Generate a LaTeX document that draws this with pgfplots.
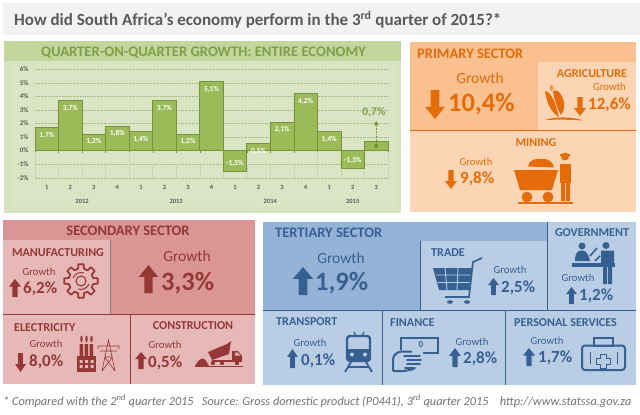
\documentclass[border=0pt]{standalone}
\usepackage{pgfplots}
\pgfplotsset{compat=1.18}
\usepackage{fontspec}
\setmainfont{Carlito}
\usetikzlibrary{arrows.meta}
\definecolor{titlec}{HTML}{595959}
\definecolor{gbg}{HTML}{D6E3BC}
\definecolor{ghead}{HTML}{C3D69B}
\definecolor{gplot}{HTML}{DAE5C5}
\definecolor{gbar}{HTML}{9BBB59}
\definecolor{gedge}{HTML}{76923C}
\definecolor{gdark}{HTML}{7F9F45}
\definecolor{odark}{HTML}{FAC090}
\definecolor{olight}{HTML}{FCD5B5}
\definecolor{otx}{HTML}{E46C0A}
\definecolor{rdark}{HTML}{D99694}
\definecolor{rlight}{HTML}{E6B9B8}
\definecolor{rtx}{HTML}{953735}
\definecolor{bdark}{HTML}{95B3D7}
\definecolor{blight}{HTML}{B9CDE5}
\definecolor{btx}{HTML}{376092}
\newcommand{\upa}[5]{\fill[#5] ({(#1+#3)/2},#2) -- (#3,{#2+(#4-#2)*0.42}) -- ({#1+(#3-#1)*0.72},{#2+(#4-#2)*0.42}) -- ({#1+(#3-#1)*0.72},#4) -- ({#1+(#3-#1)*0.28},#4) -- ({#1+(#3-#1)*0.28},{#2+(#4-#2)*0.42}) -- (#1,{#2+(#4-#2)*0.42}) -- cycle;}
\newcommand{\dna}[5]{\fill[#5] ({(#1+#3)/2},#4) -- (#3,{#4-(#4-#2)*0.42}) -- ({#1+(#3-#1)*0.72},{#4-(#4-#2)*0.42}) -- ({#1+(#3-#1)*0.72},#2) -- ({#1+(#3-#1)*0.28},#2) -- ({#1+(#3-#1)*0.28},{#4-(#4-#2)*0.42}) -- (#1,{#4-(#4-#2)*0.42}) -- cycle;}
\newcommand{\tx}[5][center]{\node[anchor=#1,inner sep=0pt,text=#5,font=#4] at (#2) {#3};}
\newcommand{\fsec}{\fontsize{14.5}{16}\selectfont\bfseries}
\newcommand{\fsub}{\fontsize{12.1}{14}\selectfont\bfseries}
\newcommand{\fgb}{\fontsize{15.5}{17}\selectfont}
\newcommand{\fgs}{\fontsize{10.7}{12}\selectfont}
\newcommand{\fnb}{\fontsize{26.5}{28}\selectfont\bfseries}
\newcommand{\fns}{\fontsize{17}{19}\selectfont\bfseries}
\pgfplotstableread{
x y
0.5 1.7
1.5 3.7
2.5 1.2
3.5 1.8
4.5 1.4
5.5 3.7
6.5 1.2
7.5 5.1
9.5 0.5
10.5 2.1
11.5 4.2
12.5 1.4
}\tblpos
\pgfplotstableread{
x y
8.5 -1.5
13.5 -1.3
}\tblneg
\pgfplotstableread{
x y
14.5 0.7
}\tbllast
\begin{document}
\begin{tikzpicture}
\begin{scope}[x=1pt,y=-1pt]
\useasboundingbox (0,0) rectangle (640,415);
\fill[white] (0,0) rectangle (640,415);
% title
\fill[black!5] (3,3) rectangle (640,35);
\node[anchor=west,inner sep=0pt,text=titlec,font=\fontsize{17}{19}\selectfont\bfseries] at (14,19.5) {How did South Africa’s economy perform in the 3\textsuperscript{rd} quarter of 2015?*};
% green panel
\fill[gbg] (4,41) rectangle (401,212.5);
\fill[ghead] (4,41) rectangle (401,61);
\fill[gplot] (12,61) rectangle (396,207);
\tx{203.5,52.5}{QUARTER-ON-QUARTER GROWTH: ENTIRE ECONOMY}{\fontsize{14.65}{16}\selectfont\bfseries}{gdark}
% primary
\fill[olight] (409.5,42) rectangle (636,212);
\fill[odark] (409.5,42) rectangle (636,62);
\fill[odark] (409.5,62) rectangle (538,130);
\draw[otx,line width=0.7] (409.5,130) -- (636,130);
\tx[west]{417,54}{PRIMARY SECTOR}{\fsec}{otx}
\tx{480,78}{Growth}{\fgb}{otx}
\dna{425}{90}{445}{119}{otx}
\tx[west]{448,104}{10,4\%}{\fnb}{otx}
\tx{592,74}{AGRICULTURE}{\fsub}{otx}
\tx[east]{626,87}{Growth}{\fgs}{otx}
\dna{574}{97}{586}{116}{otx}
\tx[west]{588,105}{12,6\%}{\fns}{otx}
\tx{536,143}{MINING}{\fsub}{otx}
\tx{476,162}{Growth}{\fgs}{otx}
\dna{445}{170}{457}{189}{otx}
\tx[west]{460,179}{9,8\%}{\fns}{otx}
% corn
\fill[otx] (545,91) .. controls (551,92) and (555,101) .. (559,117) .. controls (552,113) and (547,105) .. (545,91) -- cycle;
\fill[otx] (553,91) .. controls (558,88) and (562,95) .. (564,102) .. controls (565,108) and (563,112) .. (561,115) .. controls (557,108) and (554,99) .. (553,91) -- cycle;
\fill[otx!70] (551.5,88) ellipse (2 and 2.8);
\fill[otx] (545,120) .. controls (555,116.5) and (572,116.5) .. (583,120.5) .. controls (570,119.5) and (555,119.5) .. (545,120) -- cycle;
% cart
\fill[otx] (514,170) -- (558,170) -- (552,190) -- (520,190) -- cycle;
\fill[otx] (528,166.5) .. controls (528,160) and (537,158) .. (541,159) .. controls (548,158) and (553,162) .. (554,167.5) -- cycle;
\fill[otx] (527,197) circle (5.4) (548,197) circle (5.4);
\fill[otx] (518,202) rectangle (573,203.5);
\fill[otx] (565,156.5) circle (4);
\fill[otx] (560,153.5) rectangle (570,156);
\fill[otx] (560,164) rectangle (571,183);
\fill[otx] (561,183) rectangle (565,201) (566,183) rectangle (570,201);
% secondary
\fill[rdark] (3,220) rectangle (255,384);
\fill[rlight] (3,240) rectangle (110,314);
\fill[rlight] (3,314) rectangle (255,384);
\draw[rtx,line width=0.7] (3,314) -- (255,314) (130,314) -- (130,384);
\draw[black!50,line width=0.5] (110,240) -- (110,314);
\tx{128,231}{SECONDARY SECTOR}{\fsec}{rtx}
\tx{58,253}{MANUFACTURING}{\fsub}{rtx}
\tx{39,272}{Growth}{\fgs}{rtx}
\upa{9}{279}{21}{297}{rtx}
\tx[west]{23,289}{6,2\%}{\fns}{rtx}
\tx{187,256}{Growth}{\fgb}{rtx}
\upa{139}{265}{158}{293}{rtx}
\tx[west]{161,283}{3,3\%}{\fnb}{rtx}
\tx[west]{14,328}{ELECTRICITY}{\fsub}{rtx}
\tx{46,344}{Growth}{\fgs}{rtx}
\dna{15}{353}{26}{372}{rtx}
\tx[west]{29,362}{8,0\%}{\fns}{rtx}
\tx{193,326}{CONSTRUCTION}{\fsub}{rtx}
\tx{165,345}{Growth}{\fgs}{rtx}
\upa{135}{352}{147}{369}{rtx}
\tx[west]{148,363}{0,5\%}{\fns}{rtx}
% gear
\begin{scope}[shift={(81,281)}]
\draw[rtx,line width=1.7,line join=round] (-14:12.5) -- (-9:17) -- (9:17) -- (14:12.5) \foreach \a in {45,90,...,315}{ -- (\a-14:12.5) -- (\a-9:17) -- (\a+9:17) -- (\a+14:12.5)} -- cycle;
\draw[rtx,line width=1.1] (0,0) circle (5);
\draw[rtx,line width=1] (20:8.5) arc (20:110:8.5) (200:8.5) arc (200:290:8.5);
\end{scope}
% factory
\fill[rtx] (77,356) rectangle (96,372);
\fill[rtx] (79.5,344) rectangle (83,356) (84.5,344) rectangle (88,356) (89.5,344) rectangle (93,356);
\fill[rtx] (81.5,339) ellipse (1.2 and 3.5) (86.5,339) ellipse (1.2 and 3.5) (91.5,339) ellipse (1.2 and 3.5);
\fill[rlight] (79.5,360) rectangle (82.5,363) (85,360) rectangle (88,363) (90.5,360) rectangle (93.5,363) (79.5,365) rectangle (82.5,368) (85,365) rectangle (88,368) (90.5,365) rectangle (93.5,368);
\draw[rtx,line width=0.6] (102,371) -- (108.5,340) -- (115,371) (102,371) -- (112.5,357) (115,371) -- (104.5,357) (98,346) -- (119,346) (100,351) -- (117,351) (104.5,357) -- (112.5,357) (98,346) -- (98,349) (119,346) -- (119,349);
% truck
\fill[rtx] (195,366) .. controls (198,360) and (201,358.5) .. (203,358.5) .. controls (205,359) and (207,362) .. (209,366) -- cycle;
\fill[rtx] (208,352) -- (227,344) -- (231,341) -- (229,354) -- (212,360) -- cycle;
\fill[rtx] (212,359.5) rectangle (242,362);
\fill[rtx] (232,351) -- (238,351) -- (242,356) -- (242,360) -- (232,360) -- cycle;
\fill[rlight] (235,352.5) -- (238,352.5) -- (240,355.5) -- (235,355.5) -- cycle;
\fill[rtx] (213,363) circle (2.2) (222,363) circle (2.2) (237,363) circle (2.2);
\draw[rtx,line width=0.6] (195,366.5) -- (243,366.5);
% tertiary
\fill[blight] (263,222) rectangle (636,385);
\fill[bdark] (263,222) rectangle (547,241);
\fill[bdark] (263,241) rectangle (420,310);
\draw[btx,line width=0.6] (263,310) -- (636,310) (547,222) -- (547,310) (420,241) -- (420,310) (382,310) -- (382,385) (505,310) -- (505,385);
\tx[west]{275,233}{TERTIARY SECTOR}{\fsec}{btx}
\tx{341,258}{Growth}{\fgb}{btx}
\upa{293}{267}{313}{295}{btx}
\tx[west]{315,283}{1,9\%}{\fnb}{btx}
\tx[west]{431,253}{TRADE}{\fsub}{btx}
\tx{510,270}{Growth}{\fgs}{btx}
\upa{488}{278}{499}{295}{btx}
\tx[west]{501,288}{2,5\%}{\fns}{btx}
\tx{592,233}{GOVERNMENT}{\fsub}{btx}
\tx{578,278}{Growth}{\fgs}{btx}
\upa{566}{287}{577}{304}{btx}
\tx[west]{579,296}{1,2\%}{\fns}{btx}
\tx[west]{276,322}{TRANSPORT}{\fsub}{btx}
\tx{310,343}{Growth}{\fgs}{btx}
\upa{287}{349}{298}{368}{btx}
\tx[west]{301,361}{0,1\%}{\fns}{btx}
\tx[west]{390,323}{FINANCE}{\fsub}{btx}
\tx{472,342}{Growth}{\fgs}{btx}
\upa{449}{348}{461}{367}{btx}
\tx[west]{463,359}{2,8\%}{\fns}{btx}
\tx[west]{514,323}{PERSONAL SERVICES}{\fsub}{btx}
\tx{547,341}{Growth}{\fgs}{btx}
\upa{523}{348}{535}{366}{btx}
\tx[west]{538,358}{1,7\%}{\fns}{btx}
% cart icon
\fill[btx] (433,268) -- (472,268) -- (469,290) -- (439,290) -- cycle;
\draw[blight,line width=0.9] (445,268) -- (447,290) (458,268) -- (457,290) (436,275) -- (470.5,275) (437.5,282.5) -- (469.5,282.5);
\draw[btx,line width=1.7] (482,258) -- (473,262) -- (469,297) -- (445,297);
\fill[btx] (450,302) ellipse (3 and 1.8) (467,302) ellipse (3 and 1.8);
% government icon
\fill[btx] (582,246) circle (3.5) (606,245.5) circle (3.5);
\fill[btx] (575,261) .. controls (575,252) and (578,250.5) .. (582,250.5) .. controls (586,250.5) and (588,253) .. (590,261) -- cycle;
\fill[btx] (572,263) rectangle (615,266.5);
\draw[btx,line width=1.6] (590,256) -- (597,248) (600,256) -- (595,261);
\fill[btx] (601,250.5) rectangle (614,263) (603,266) rectangle (607,284) (608,266) rectangle (612,284);
% train
\draw[btx,line width=2.4,rounded corners=3] (347,336) rectangle (370,361);
\fill[btx] (347,349) rectangle (370,361);
\fill[blight] (352,354.5) circle (2) (365,354.5) circle (2);
\draw[btx,line width=1.2] (356,336) -- (354,332) (362,336) -- (364,332);
\draw[btx,line width=1.8] (351,362) -- (345,372) (366,362) -- (372,372) (348,367) -- (369,367);
% finance
\draw[btx,line width=2] (400.5,338) rectangle (438,353);
\node[text=btx,font=\fontsize{9}{10}\selectfont\bfseries,inner sep=0pt] at (421,345) {0};
\fill[blight] (391,350) -- (412,350) -- (423,351) -- (423,372) -- (391,372) -- cycle;
\draw[btx,line width=2,line join=round] (393,371) -- (393,360) .. controls (393,355) and (397,352) .. (401,351.5) -- (412,351.5) (393,371) -- (404,371) -- (414,369);
\draw[btx,line width=1.8,line cap=round] (404,356) -- (420,356) (407,360) -- (421,360) (407,364) -- (420,364) (405,368) -- (415,368);
% kit
\draw[btx,line width=2,rounded corners=3] (582,345.5) rectangle (625,370);
\draw[btx,line width=2] (594,338) rectangle (613,345.5);
\draw[btx,line width=1] (590,352) -- (590,364) (617,352) -- (617,364);
\draw[btx,line width=1] (600,354) -- (606,354) -- (606,358) -- (610,358) -- (610,364) -- (606,364) -- (606,368) -- (600,368) -- (600,364) -- (596,364) -- (596,358) -- (600,358) -- cycle;
% footnote
\node[anchor=west,inner sep=0pt,text=black!55,font=\fontsize{12.3}{14}\selectfont\itshape] at (3,401) {* Compared with the 2\textsuperscript{nd} quarter 2015 \ \ Source: Gross domestic product (P0441), 3\textsuperscript{rd} quarter 2015 \ \ \ http://www.statssa.gov.za};
\end{scope}
\begin{axis}[
  at={(35pt,-177.7pt)}, anchor=south west,
  scale only axis, width=353pt, height=108.4pt,
  xmin=0, xmax=15, ymin=-2, ymax=6,
  clip=false,
  axis line style={draw=none},
  ytick={-2,-1,0,1,2,3,4,5,6},
  yticklabel={\pgfmathprintnumber{\tick}\%},
  yticklabel style={font=\fontsize{7}{8}\selectfont\bfseries, text=titlec, /pgf/number format/assume math mode=true, /pgf/number format/precision=0, xshift=-3pt},
  xtick={0.5,1.5,...,14.5},
  xticklabels={1,2,3,4,1,2,3,4,1,2,3,4,1,2,3},
  xticklabel style={font=\fontsize{6.5}{7}\selectfont\bfseries, text=titlec, yshift=-4.5pt, /pgf/number format/assume math mode=true},
  major tick length=0pt,
  ymajorgrids, grid style={gedge!60, densely dotted, line width=0.3pt},
  xmajorgrids=false,
  ybar, bar width=1, bar shift=0pt,
  nodes near coords style={font=\fontsize{7.5}{8}\selectfont\bfseries, text=white, /pgf/number format/assume math mode=true, /pgf/number format/fixed, /pgf/number format/fixed zerofill, /pgf/number format/precision=1, /pgf/number format/use comma},
]
\draw[gedge, line width=0.6pt] (axis cs:0,0) -- (axis cs:15,0);
\pgfplotsinvokeforeach{0,1,...,15}{ \draw[gedge, line width=0.3pt] (axis cs:#1,-0.15) -- (axis cs:#1,0); \draw[gedge!40, line width=0.35pt] (axis cs:#1,-2) -- ++(0,-14pt);}
\pgfplotsinvokeforeach{0,4,8,12,15}{ \draw[gedge!40, line width=0.35pt] (axis cs:#1,-2) ++(0,-14pt) -- ++(0,-14pt);}
\addplot[fill=gbar, draw=gedge, line width=0.7pt, nodes near coords={\pgfmathprintnumber{\pgfplotspointmeta}\%}, every node near coord/.append style={anchor=north, yshift=-0.8pt}] table {\tblpos};
\addplot[fill=gbar, draw=gedge, line width=0.7pt, nodes near coords={\pgfmathprintnumber{\pgfplotspointmeta}\%}, every node near coord/.append style={anchor=south, yshift=0.8pt}] table {\tblneg};
\addplot[fill=gbar, draw=gedge, line width=0.7pt] table {\tbllast};
\node[font=\fontsize{6.5}{7}\selectfont\bfseries, text=titlec] at ([yshift=-23.5pt]axis cs:2,-2) {2012};
\node[font=\fontsize{6.5}{7}\selectfont\bfseries, text=titlec] at ([yshift=-23.5pt]axis cs:6,-2) {2013};
\node[font=\fontsize{6.5}{7}\selectfont\bfseries, text=titlec] at ([yshift=-23.5pt]axis cs:10,-2) {2014};
\node[font=\fontsize{6.5}{7}\selectfont\bfseries, text=titlec] at ([yshift=-23.5pt]axis cs:13.5,-2) {2015};
\fill[gedge] (axis cs:14.5,0.35) circle (2.2pt);
\draw[gedge, densely dotted, line width=0.6pt, -{Triangle[length=4.5pt,width=4.5pt]}] (axis cs:14.5,0.35) -- (axis cs:14.5,2.2);
\node[font=\fontsize{11.5}{13}\selectfont\bfseries, text=gdark] at (axis cs:14.4,2.85) {0,7\%};
\end{axis}
\end{tikzpicture}
\end{document}
